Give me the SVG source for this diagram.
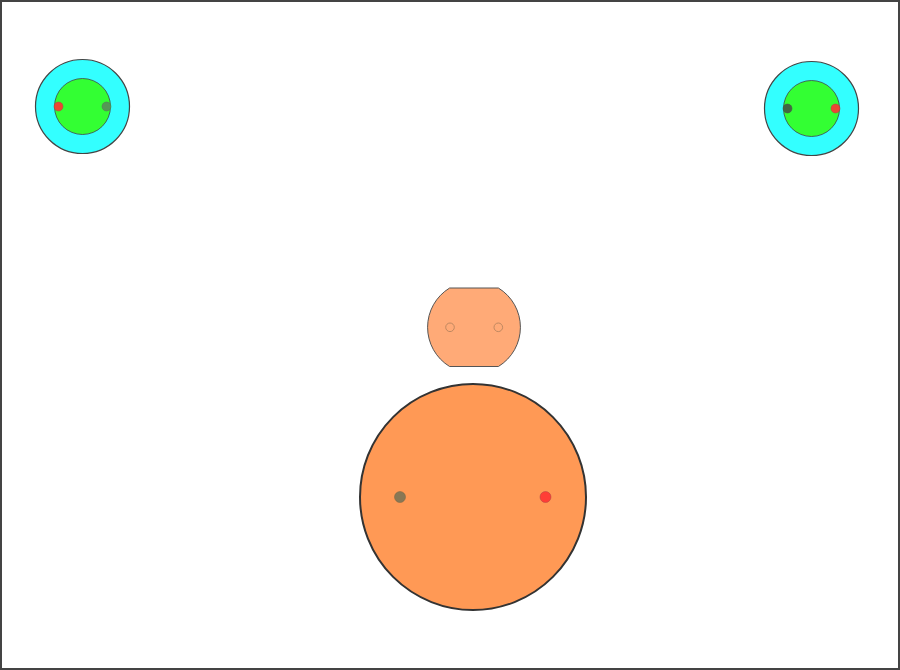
<svg xmlns="http://www.w3.org/2000/svg" width="900" height="670" viewBox="0 0 900 670">
<style>
.frame{fill:#fff;stroke:#444;stroke-width:2}
.ring{fill:#33ffff;stroke:#444;stroke-width:1.2}
.core{fill:#33ff33;stroke:#444;stroke-width:0.8}
.red{fill:#ff3333;fill-opacity:0.9;stroke:#aa4444;stroke-width:0.5}
.green{fill:#559955;stroke:#557755;stroke-width:0.5}
.dark{fill:#446644;stroke:#445544;stroke-width:0.5}
.small{fill:#ffaa77;stroke:#555;stroke-width:1}
.hole{fill:none;stroke:#c08860;stroke-width:1}
.big{fill:#ff9955;stroke:#333;stroke-width:2}
.olive{fill:#887755;stroke:#776644;stroke-width:0.5}
</style>
<rect class="frame" x="1" y="1" width="898" height="668"/>
<g id="left">
<circle class="ring" cx="82.5" cy="106.5" r="47"/>
<circle class="core" cx="82.5" cy="106.5" r="28"/>
<circle class="red" cx="58.5" cy="106.5" r="4.5"/>
<circle class="green" cx="106.5" cy="106.5" r="4.5"/>
</g>
<g id="right">
<circle class="ring" cx="811.5" cy="108.5" r="47"/>
<circle class="core" cx="811.5" cy="108.5" r="28"/>
<circle class="dark" cx="787.5" cy="108.5" r="4.5"/>
<circle class="red" cx="835.5" cy="108.5" r="4.5"/>
</g>
<g id="middle">
<path class="small" d="M449.6,288 L498.4,288 A46,46 0 0 1 498.4,366.5 L449.6,366.5 A46,46 0 0 1 449.6,288 Z"/>
<circle class="hole" cx="450" cy="327.3" r="4.3"/>
<circle class="hole" cx="498.3" cy="327.3" r="4.3"/>
</g>
<g id="bottom">
<circle class="big" cx="473" cy="497" r="113"/>
<circle class="olive" cx="400" cy="497" r="5.5"/>
<circle class="red" cx="545.5" cy="497" r="5.5"/>
</g>
<g id="connectors"></g>
</svg>
